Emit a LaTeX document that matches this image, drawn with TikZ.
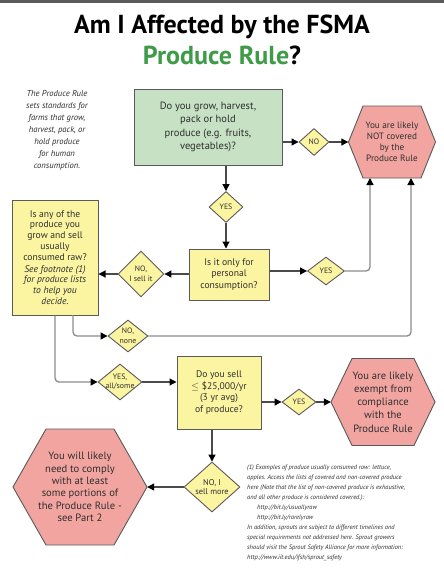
\documentclass[tikz,border=0pt]{standalone}
\usepackage{fontspec}
\setmainfont{PT Sans}
\usetikzlibrary{shapes.geometric,arrows.meta,calc}
\definecolor{boxgreen}{HTML}{C6E1C4}
\definecolor{boxyellow}{HTML}{FBF5A2}
\definecolor{boxpink}{HTML}{F2A5A0}
\definecolor{edgec}{HTML}{5A5A5A}
\definecolor{textc}{HTML}{2E2E2E}
\definecolor{titlegreen}{HTML}{3F9B48}
\definecolor{linedark}{HTML}{4A4A4A}
\definecolor{linegray}{HTML}{8C8C8C}
\newcommand{\hexpath}[5]{% cx, cy, w, h, top half width
  \path[hexshape] ({#1-#3/2},{#2}) -- ({#1-#5},{#2-#4/2}) -- ({#1+#5},{#2-#4/2})
    -- ({#1+#3/2},{#2}) -- ({#1+#5},{#2+#4/2}) -- ({#1-#5},{#2+#4/2}) -- cycle;}
\begin{document}
\begin{tikzpicture}[x=1pt,y=-1pt,
  every node/.style={text=textc},
  qbox/.style={draw=edgec,line width=1pt,align=center,inner sep=0pt},
  greenbox/.style={qbox,fill=boxgreen,font=\fontsize{10.5}{13.5}\selectfont},
  yellowbox/.style={qbox,fill=boxyellow,font=\fontsize{9.6}{11.8}\selectfont},
  dia/.style={shape=diamond,draw=edgec,line width=0.9pt,fill=boxyellow,inner sep=0pt},
  dtext/.style={align=center,inner sep=0pt,text=textc,font=\fontsize{7.8}{9.5}\selectfont},
  hexshape/.style={draw=edgec,line width=0.9pt,fill=boxpink},
  hextext/.style={align=center,inner sep=0pt},
  conn/.style={draw=linedark,line width=1.1pt,-{Triangle[length=7pt,width=7pt,color=black]}},
  route/.style={draw=linegray,line width=1.3pt,rounded corners=4pt,-{Triangle[length=7pt,width=7pt,color=black]}}
]
\useasboundingbox (0,0) rectangle (444,576);
\fill[white] (0,0) rectangle (444,576);
\fill[edgec] (0,0) rectangle (444,2.5);

% title
\node[font=\bfseries\fontsize{26}{30}\selectfont,text=black] (title1) at (222,27) {Am I Affected by the FSMA};
\node[font=\bfseries\fontsize{26}{30}\selectfont,text=black] (title2) at (222,55) {\textcolor{titlegreen}{Produce Rule}?};

% side note
\node[align=center,font=\itshape\fontsize{8.6}{12}\selectfont] (side) at (57,130)
  {The Produce Rule\\sets standards for\\farms that grow,\\harvest, pack, or\\hold produce\\for human\\consumption.};

% boxes
\node[greenbox,minimum width=148,minimum height=76] (q1) at (208,127)
  {Do you grow, harvest,\\pack or hold\\produce (e.g. fruits,\\vegetables)?};
\node[yellowbox,minimum width=80,minimum height=51] (q2) at (229,274.5)
  {Is it only for\\personal\\consumption?};
\node[yellowbox,minimum width=86,minimum height=115,font=\fontsize{9.6}{10.8}\selectfont] (q3) at (55,257.5)
  {Is any of the\\produce you\\grow and sell\\usually\\consumed raw?\\[1pt]
   \itshape See footnote (1)\\\itshape for produce lists\\\itshape to help you\\\itshape decide.};
\node[yellowbox,minimum width=84,minimum height=73] (q4) at (219,392.5)
  {Do you sell\\$\le$ \$25,000/yr\\(3 yr avg)\\of produce?};

% diamonds
\node[dia,minimum width=30,minimum height=27,label={[dtext]center:NO}] (no1) at (314,142) {};
\node[dia,minimum width=34,minimum height=31,label={[dtext]center:YES}] (yes1) at (226,207) {};
\node[dia,minimum width=37,minimum height=28,label={[dtext]center:YES}] (yes2) at (326,271) {};
\node[dia,minimum width=46,minimum height=46,label={[dtext]center:{NO,\\I sell it}}] (nosell) at (141,274) {};
\node[dia,minimum width=40,minimum height=32,label={[dtext]center:{NO,\\none}}] (nonone) at (128,336) {};
\node[dia,minimum width=44,minimum height=36,label={[dtext]center:{YES,\\all/some}}] (yesall) at (120,382) {};
\node[dia,minimum width=34,minimum height=26,label={[dtext]center:YES}] (yes3) at (299,402) {};
\node[dia,minimum width=56,minimum height=50,label={[dtext,font=\fontsize{8.4}{9.5}\selectfont]center:{NO, I\\sell more}}] (nomore) at (212,487) {};

% hexagons
\hexpath{392}{142}{87}{72}{29}
\node[hextext,minimum width=87,minimum height=72,font=\fontsize{9.2}{11}\selectfont] (hex1) at (392,142)
  {You are likely\\NOT covered\\by the\\Produce Rule};
\hexpath{383}{402}{104}{87}{31}
\node[hextext,minimum width=104,minimum height=87,font=\fontsize{10.6}{13.3}\selectfont] (hex2) at (383,402)
  {You are likely\\exempt from\\compliance\\with the\\Produce Rule};
\hexpath{80}{487}{134}{116}{34}
\node[hextext,minimum width=134,minimum height=116,font=\fontsize{10.6}{12.3}\selectfont] (hex3) at (80,487)
  {You will likely\\need to comply\\with at least\\some portions of\\the Produce Rule -\\see Part 2};

\coordinate (hexin1) at (370,178);
\coordinate (hexin2) at (411,178);
\coordinate (q3out) at (73,315);

% connectors
\draw[conn] (q1.east |- no1.west) -- (no1.west);
\draw[conn] (no1.east) -- (hex1.west);
\draw[conn] (yes1.north |- q1.south) -- (yes1.north);
\draw[conn] (yes1.south) -- (yes1.south |- q2.north);
\draw[conn] (q2.east |- yes2.west) -- (yes2.west);
\draw[route] (yes2.east) -| (hexin1);
\draw[conn] (q2.west |- nosell.east) -- (nosell.east);
\draw[conn] (nosell.west) -- (nosell.west -| q3.east);
\draw[route] (q3out) |- (nonone.west);
\draw[route] (nonone.east) -| (hexin2);
\draw[route] (q3.south) |- (yesall.west);
\draw[conn] (yesall.east) -- (yesall.east -| q4.west);
\draw[conn] (q4.east |- yes3.west) -- (yes3.west);
\draw[conn] (yes3.east) -- (hex2.west);
\draw[conn] (nomore.north |- q4.south) -- (nomore.north);
\draw[conn] (nomore.west) -- (hex3.east);

% footnote
\node[anchor=north west,align=left,inner sep=0pt,font=\itshape\fontsize{6.4}{10}\selectfont] (foot) at (247,465)
  {(1) Examples of produce usually consumed raw: lettuce,\\
   apples. Access the lists of covered and non-covered produce\\
   here (Note that the list of non-covered produce is exhaustive,\\
   and all other produce is considered covered.):\\
   \hspace*{10pt}http://bit.ly/usuallyraw\\
   \hspace*{10pt}http://bit.ly/rarelyraw\\
   In addition, sprouts are subject to different timelines and\\
   special requirements not addressed here. Sprout growers\\
   should visit the Sprout Safety Alliance for more information:\\
   http://www.iit.edu/ifsh/sprout\_safety};
\end{tikzpicture}
\end{document}
